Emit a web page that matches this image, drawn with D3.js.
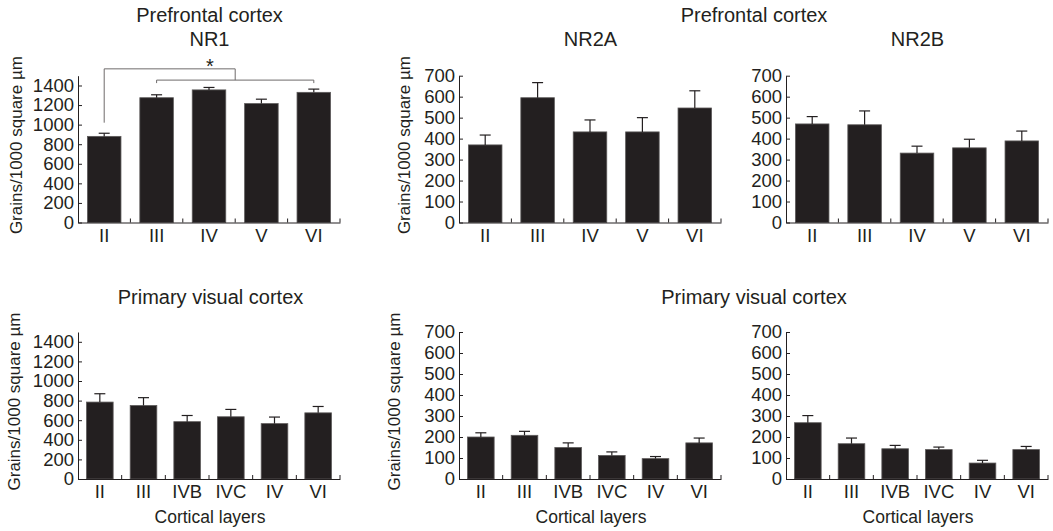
<!DOCTYPE html>
<html>
<head>
<meta charset="utf-8">
<script src="https://cdn.jsdelivr.net/npm/d3@7"></script>
<style>
  body { margin: 0; background: #fff; }
  svg { display: block; font-family: "Liberation Sans", Arial, Helvetica, sans-serif; }
</style>
</head>
<body>
<script>
// cortical layers on the x axis
const layersPfc = ['II', 'III', 'IV', 'V', 'VI'];
const layersV1 = ['II', 'III', 'IVB', 'IVC', 'IV', 'VI'];

// y tick labels
const ticks1400 = [0, 200, 400, 600, 800, 1000, 1200, 1400];
const ticks700 = [0, 100, 200, 300, 400, 500, 600, 700];

// grains / 1000 square um, mean and upper error
const pfcNR1 = [880, 1275, 1355, 1215, 1330];
const pfcNR1Err = [32, 30, 25, 45, 33];
const pfcNR2A = [370, 595, 432, 432, 546];
const pfcNR2AErr = [47, 72, 57, 68, 82];
const pfcNR2B = [470, 466, 331, 356, 389];
const pfcNR2BErr = [35, 66, 33, 41, 47];

const v1NR1 = [785, 750, 585, 635, 565, 675];
const v1NR1Err = [85, 80, 63, 75, 67, 65];
const v1NR2A = [200, 208, 150, 112, 97, 172];
const v1NR2AErr = [20, 19, 22, 17, 10, 23];
const v1NR2B = [268, 168, 144, 140, 76, 140];
const v1NR2BErr = [34, 27, 16, 12, 13, 15];

const ink = '#231f20';
const svg = d3.select('body').append('svg')
    .attr('width', 1053)
    .attr('height', 531);

const topRow = {top: 75.7, bottom: 222.5};
const botRow = {top: 332, bottom: 479};
const cols = [{left: 78, right: 340}, {left: 459, right: 721}, {left: 786, right: 1048}];

const panels = [
  {cats: layersPfc, vals: pfcNR1, errs: pfcNR1Err, yMax: 1500, ticks: ticks1400, col: cols[0], row: topRow, pad: 0.36, labelX: 21.5,
   sig: {from: 'II', to: ['III', 'VI'], star: 'IV', top: 1570, mid: 1455, base: 1020}},
  {cats: layersPfc, vals: pfcNR2A, errs: pfcNR2AErr, yMax: 700, ticks: ticks700, col: cols[1], row: topRow, pad: 0.36, labelX: 410},
  {cats: layersPfc, vals: pfcNR2B, errs: pfcNR2BErr, yMax: 700, ticks: ticks700, col: cols[2], row: topRow, pad: 0.36},
  {cats: layersV1, vals: v1NR1, errs: v1NR1Err, yMax: 1500, ticks: ticks1400, col: cols[0], row: botRow, pad: 0.39, labelX: 19.5, xTitle: true},
  {cats: layersV1, vals: v1NR2A, errs: v1NR2AErr, yMax: 700, ticks: ticks700, col: cols[1], row: botRow, pad: 0.39, labelX: 399.5, xTitle: true},
  {cats: layersV1, vals: v1NR2B, errs: v1NR2BErr, yMax: 700, ticks: ticks700, col: cols[2], row: botRow, pad: 0.39, xTitle: true}
];

function drawPanel(p) {
    const x = d3.scaleBand()
        .domain(p.cats)
        .range([p.col.left, p.col.right])
        .paddingInner(p.pad)
        .paddingOuter(p.pad / 2);
    const y = d3.scaleLinear()
        .domain([0, p.yMax])
        .range([p.row.bottom, p.row.top]);
    const g = svg.append('g');
    const bw = x.bandwidth();
    const capW = 11;

    // bars
    g.selectAll('rect')
        .data(p.vals)
        .join('rect')
        .attr('x', (d, i) => x(p.cats[i]))
        .attr('y', d => y(d))
        .attr('width', bw)
        .attr('height', d => y(0) - y(d))
        .attr('fill', ink)
        .attr('stroke', '#5d5a5a')
        .attr('stroke-width', 0.8);

    // error bars (upper only)
    const eb = g.append('g').attr('stroke', ink).attr('stroke-width', 1.2);
    p.vals.forEach((v, i) => {
        const cx = x(p.cats[i]) + bw / 2;
        eb.append('line').attr('x1', cx).attr('x2', cx).attr('y1', y(v)).attr('y2', y(v + p.errs[i]));
        eb.append('line').attr('x1', cx - capW / 2).attr('x2', cx + capW / 2)
            .attr('y1', y(v + p.errs[i])).attr('y2', y(v + p.errs[i]));
    });

    // y axis, ticks pointing inward
    const yAxis = g.append('g')
        .attr('transform', `translate(${p.col.left},0)`)
        .call(d3.axisLeft(y).tickValues(p.ticks).tickFormat(d3.format('d'))
            .tickSizeInner(-4).tickSizeOuter(0).tickPadding(4));
    // x axis, labels only
    const xAxis = g.append('g')
        .attr('transform', `translate(0,${p.row.bottom})`)
        .call(d3.axisBottom(x).tickSize(0).tickPadding(6));
    [yAxis, xAxis].forEach(a => {
        a.attr('font-size', null).attr('font-family', null);
        a.selectAll('text').attr('fill', ink).style('font-size', '18.5px');
        a.selectAll('path, line').attr('stroke', ink);
    });

    // small upward ticks between layers
    g.selectAll('line.sep')
        .data(d3.range(1, p.cats.length + 1))
        .join('line')
        .attr('class', 'sep')
        .attr('x1', i => p.col.left + x.step() * i)
        .attr('x2', i => p.col.left + x.step() * i)
        .attr('y1', p.row.bottom)
        .attr('y2', p.row.bottom - 4)
        .attr('stroke', ink);

    // y axis title
    if (p.labelX !== undefined) {
        const cy = (p.row.top + p.row.bottom) / 2 - 4;
        g.append('text')
            .attr('transform', `translate(${p.labelX},${cy}) rotate(-90)`)
            .attr('text-anchor', 'middle')
            .attr('fill', ink)
            .style('font-size', '17px')
            .text('Grains/1000 square \u00b5m');
    }

    // x axis title
    if (p.xTitle) {
        g.append('text')
            .attr('x', (p.col.left + p.col.right) / 2 + 1)
            .attr('y', 523)
            .attr('text-anchor', 'middle')
            .attr('fill', ink)
            .style('font-size', '17.5px')
            .text('Cortical layers');
    }

    // significance bracket
    if (p.sig) {
        const s = p.sig;
        const cx = c => x(c) + bw / 2;
        const x0 = cx(s.from);
        const xa = cx(s.to[0]);
        const xb = cx(s.to[1]);
        const xm = (xa + xb) / 2;
        const br = g.append('g').attr('stroke', '#6e6b6b').attr('stroke-width', 1).attr('fill', 'none');
        br.append('path')
            .attr('d', `M${x0},${y(s.base)}V${y(s.top)}H${xm}V${y(s.mid)}`);
        br.append('path')
            .attr('d', `M${xa},${y(s.mid) + 3}V${y(s.mid)}H${xb}V${y(s.mid) + 3}`);
        g.append('text')
            .attr('x', cx(s.star) + 1)
            .attr('y', y(s.top) + 4)
            .attr('text-anchor', 'middle')
            .attr('fill', ink)
            .style('font-size', '20px')
            .text('*');
    }
    return x;
}

panels.forEach(drawPanel);

// panel titles
const titles = [
  {text: 'Prefrontal cortex', x: 209.5, y: 22},
  {text: 'NR1', x: 209.5, y: 46},
  {text: 'Prefrontal cortex', x: 754, y: 22},
  {text: 'NR2A', x: 590.5, y: 46},
  {text: 'NR2B', x: 917.5, y: 46},
  {text: 'Primary visual cortex', x: 210.5, y: 304},
  {text: 'Primary visual cortex', x: 754, y: 304}
];
svg.selectAll('text.title')
    .data(titles)
    .join('text')
    .attr('class', 'title')
    .attr('x', d => d.x)
    .attr('y', d => d.y)
    .attr('text-anchor', 'middle')
    .attr('fill', ink)
    .style('font-size', '20px')
    .text(d => d.text);
</script>
</body>
</html>
